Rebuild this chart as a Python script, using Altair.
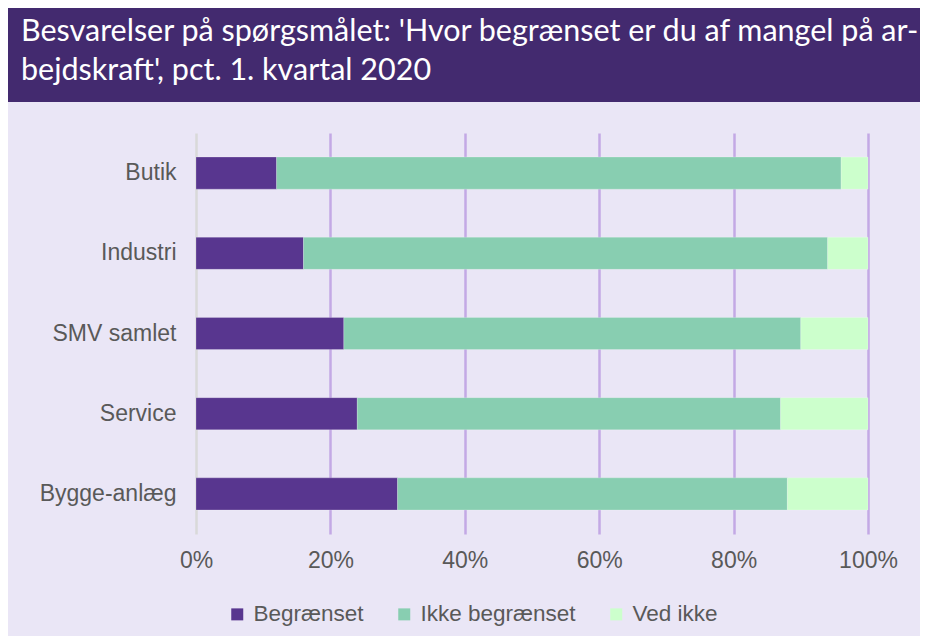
import altair as alt
import pandas as pd

CATEGORIES = ["Butik", "Industri", "SMV samlet", "Service", "Bygge-anlæg"]
SERIES = ["Begrænset", "Ikke begrænset", "Ved ikke"]
BEGRAENSET = [12, 16, 22, 24, 30]
IKKE_BEGRAENSET = [84, 78, 68, 63, 58]
VED_IKKE = [4, 6, 10, 13, 12]
COLORS = ["#58368F", "#88CEB1", "#CCFFCC"]
X_TICKS = [0, 20, 40, 60, 80, 100]
TITLE_LINES = [
    "Besvarelser på spørgsmålet: 'Hvor begrænset er du af mangel på ar-",
    "bejdskraft', pct. 1. kvartal 2020",
]

rows = []
for i, cat in enumerate(CATEGORIES):
    for j, (s, vals) in enumerate(zip(SERIES, [BEGRAENSET, IKKE_BEGRAENSET, VED_IKKE])):
        rows.append({"kategori": cat, "serie": s, "værdi": vals[i], "orden": j})
df = pd.DataFrame(rows)

W, H = 672, 401
PAD = {"left": 188, "top": 125, "right": 52, "bottom": 102}
FONT = "Liberation Sans"
GRAY = "#595959"

bars = alt.Chart(df).mark_bar(stroke="#FFFFFF", strokeWidth=0.6, strokeOpacity=0.35).encode(
    y=alt.Y("kategori:N", sort=CATEGORIES, title=None,
            scale=alt.Scale(paddingInner=0.6, paddingOuter=0.3),
            axis=alt.Axis(labelFont=FONT, labelFontSize=23, labelColor=GRAY,
                          labelPadding=20, ticks=False, domain=False, grid=False)),
    x=alt.X("værdi:Q", stack="zero", title=None,
            scale=alt.Scale(domain=[0, 100], nice=False),
            axis=alt.Axis(values=X_TICKS, labelExpr="datum.value + '%'",
                          labelFont=FONT, labelFontSize=23, labelColor=GRAY,
                          labelPadding=15, labelFlush=False, ticks=False, domain=False,
                          grid=True, gridWidth=2.5,
                          gridColor=alt.condition("datum.value === 0",
                                                  alt.value("#D9D9D9"),
                                                  alt.value("#C3A9E5")))),
    color=alt.Color("serie:N", sort=SERIES,
                    scale=alt.Scale(domain=SERIES, range=COLORS),
                    legend=alt.Legend(title=None, orient="none", direction="horizontal",
                                      legendX=30, legendY=470,
                                      symbolType="square", symbolSize=144,
                                      symbolStrokeWidth=0, symbolOpacity=1,
                                      labelFont=FONT, labelFontSize=22.5,
                                      labelColor=GRAY, labelOffset=5,
                                      columnPadding=29)),
    order=alt.Order("orden:Q"),
)

band = alt.Chart(pd.DataFrame({"a": [0]})).mark_rect(color="#432A6F").encode(
    x=alt.value(-188), x2=alt.value(724), y=alt.value(-126), y2=alt.value(-31)
)

title1 = alt.Chart(pd.DataFrame({"t": [TITLE_LINES[0]]})).mark_text(
    align="left", baseline="alphabetic", font="Lato", fontSize=30.5, color="#FFFFFF"
).encode(text="t:N", x=alt.value(-175), y=alt.value(-92))

title2 = alt.Chart(pd.DataFrame({"t": [TITLE_LINES[1]]})).mark_text(
    align="left", baseline="alphabetic", font="Lato", fontSize=30.5, color="#FFFFFF"
).encode(text="t:N", x=alt.value(-175), y=alt.value(-53))

chart = alt.layer(band, bars, title1, title2).properties(
    width=W, height=H, padding=PAD, autosize=alt.AutoSizeParams(type="none"),
    background="#EAE6F6",
).configure_view(stroke=None)

chart.save("out.html", embed_options={"renderer": "svg", "actions": False})
